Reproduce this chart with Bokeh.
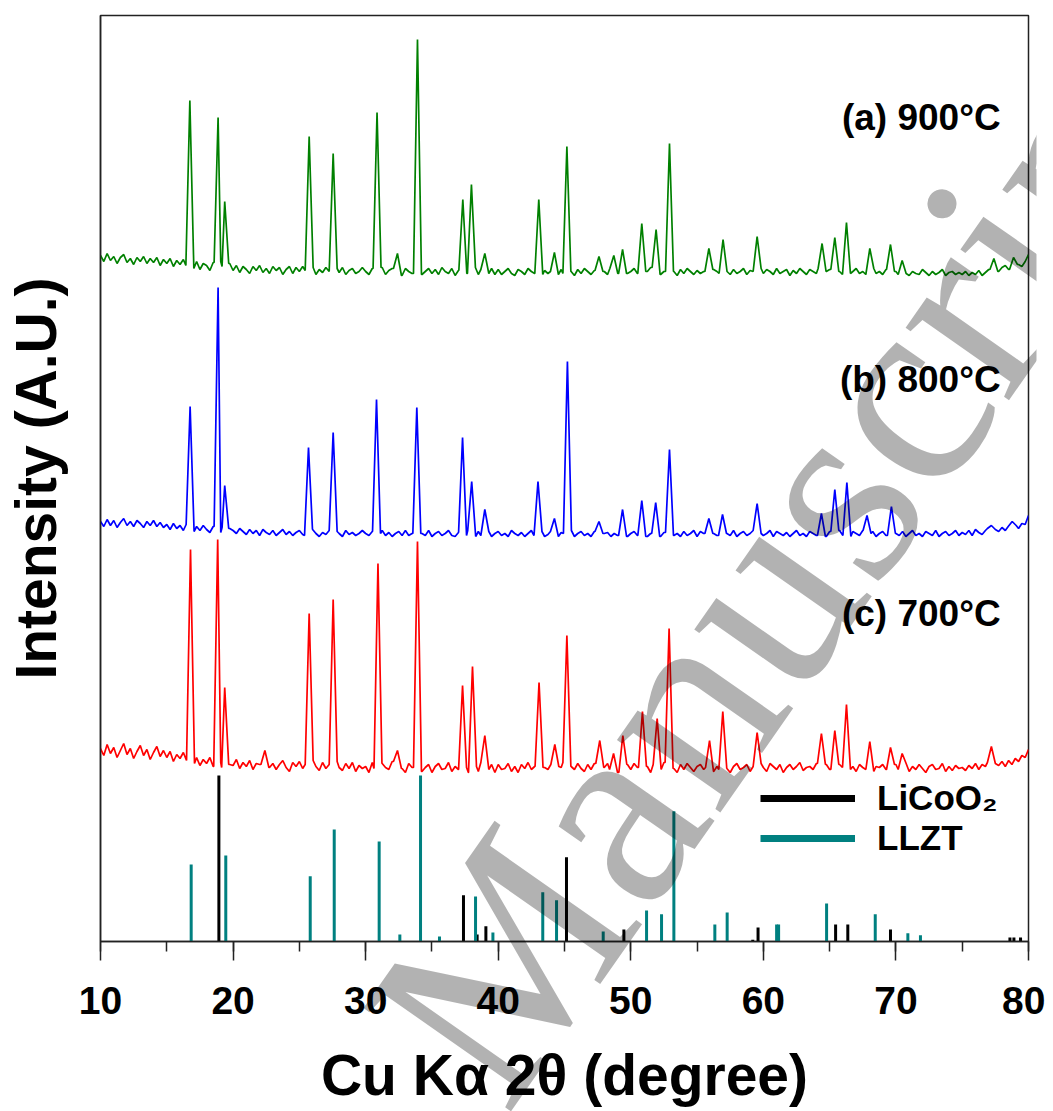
import numpy as np
from bokeh.plotting import figure
from bokeh.layouts import column
from bokeh.models import (Range1d, SingleIntervalTicker, FixedTicker, Label,
                          Legend, LegendItem)
from bokeh.embed import file_html
from bokeh.resources import INLINE

# ---------------- data ----------------
# baseline samples every 0.25 deg from 10 to 80 (intensity, A.U., relative to trace baseline)
grid = np.linspace(10, 80, 281)

green_base = [
    16, 10, 18, 11, 15, 8, 14, 17, 9, 13, 7, 14, 10, 15, 8, 13, 9, 14, 6, 12,
    8, 13, 5, 11, 7, 12, 6, 9, 3, 10, 2, 8, 6, 1, 9, 4, 10, 5, 2, 8,
    1, 6, -1, 5, 2, -2, 5, 1, 6, -1, 3, -2, 5, 1, 4, -3, 2, 5, -2, 4,
    0, 5, 1, -2, 4, -3, 2, -1, 4, 0, -3, 3, -1, 4, -3, 1, 3, -2, 0, 4,
    0, -3, 3, -2, 2, 4, -3, 1, 3, -2, 1, -4, 3, 0, -2, 4, 1, -3, 0, 3,
    -2, 2, -3, 4, 0, -2, 3, -4, 1, 0, 3, -2, 0, 4, -3, 2, 0, -2, 3, -3,
    2, -3, 0, 3, -2, -4, 2, 0, -3, 3, 0, -2, 4, -3, 1, -2, 0, 3, -3, 2,
    -2, 3, 0, -4, 2, -2, 3, 0, -3, 1, 4, -2, 0, -3, 3, 1, -2, 0, 3, -2,
    0, 3, -2, 2, -3, 0, 4, -2, 1, -3, 0, -2, 3, 0, -4, 2, -2, 3, 0, -3,
    1, -2, 0, 3, -3, 2, 0, -2, 4, 0, -3, 2, -2, 0, 3, -3, 1, 0, -2, 3,
    -2, 2, 0, -3, 3, -2, 0, 2, -4, 1, -2, 3, 0, -3, 2, 0, -2, 3, -3, 0,
    2, -2, 4, 0, -3, 2, -2, 0, 3, -2, 0, -3, 2, 3, -2, 0, -3, 2, 0, -2,
    0, -3, 2, -2, -4, 0, -2, -3, 2, -1, -4, 0, -3, -1, 2, -4, -1, 0, -3, -1,
    -3, 0, -4, -1, -3, 1, -4, -1, 2, -3, 3, 0, 4, 6, 2, 5, 3, 7, 5, 10,
    17]

blue_base = [
    12, 7, 14, 8, 13, 6, 11, 15, 8, 12, 7, 13, 10, 6, 12, 8, 13, 7, 11, 6,
    9, 4, 10, 5, 8, 3, 9, 4, 2, 7, 3, 8, 4, 1, 7, 3, 1, 6, 2, 5,
    3, 0, 5, 2, -1, 4, 0, 3, -2, 4, 1, -1, 3, -2, 1, 4, -1, 2, -2, 1,
    3, -1, -2, 2, 4, 0, -3, 1, -1, 3, -2, 2, 0, -3, 3, -1, 1, -2, 0, 3,
    0, -2, 2, -3, 0, 3, -2, 1, -3, 0, 2, -2, 3, -2, 0, -3, 2, 0, -2, 3,
    -3, 0, 2, -2, 0, 3, -2, -3, 1, 0, -2, 3, 0, -3, 2, -2, 0, 2, -3, 0,
    2, -2, 0, -3, 3, 0, -2, 1, -3, 0, 3, -2, 0, 2, -3, -1, 2, 0, -3, 1,
    0, -2, 3, -3, 0, 2, -2, 0, -3, 2, 3, -2, 0, 1, -3, 0, -2, 2, 0, -3,
    0, 2, -2, 0, 3, -3, 0, 2, -2, -3, 1, 0, 3, -2, 0, -3, 2, -2, 0, 3,
    -3, 2, 0, -2, 3, 0, -2, -3, 2, 0, -2, 3, -3, 0, 2, -2, 0, 3, -2, 0,
    -2, 0, 3, -3, 2, 0, -2, 1, -3, 0, 3, -2, 0, -3, 2, 0, -2, 3, 0, -3,
    2, -2, 0, 3, -2, 0, -3, 2, 0, -2, 3, -2, 0, 2, -3, 0, 2, -2, 0, 3,
    0, -2, 2, -3, 0, 3, -2, 0, -3, 2, 0, -2, 3, -3, 0, 2, -2, 0, 3, -2,
    1, -1, 3, -2, 4, 1, -1, 3, 5, 1, 4, 2, 6, 3, 7, 4, 8, 5, 10, 9,
    18]

red_base = [
    19, 12, 23, 14, 20, 10, 17, 24, 13, 19, 9, 16, 22, 12, 18, 8, 15, 21, 11, 17,
    10, 16, 6, 13, 9, 15, 7, 12, 4, 10, 2, 8, 4, 10, 1, 7, 5, 0, 6, 3,
    2, 8, -1, 5, 1, 7, -2, 4, 3, -3, 6, 0, 4, -2, 3, 7, 0, -4, 5, 1,
    6, -1, 3, -3, 7, 1, -3, 5, -1, 3, -4, 6, 0, -3, 4, -1, 5, -4, 2, -1,
    1, -5, 5, -1, -3, 4, 0, -2, 6, -4, 2, -1, -5, 4, 0, -2, 5, -4, 0, 3,
    -5, 1, 4, -2, -1, 5, -4, 1, -2, 4, 0, -5, 3, 1, -4, 5, -1, -2, 3, -5,
    3, -2, -1, 4, -4, 1, -5, 3, -1, 5, -2, 1, -4, 4, 0, -2, 3, -5, 1, 0,
    5, -3, 1, -2, 4, -1, -4, 3, -2, 4, 1, -4, 0, 4, -2, 3, -5, 1, -1, 3,
    -2, 4, 0, -4, 3, 1, -5, 3, -1, -2, 5, -3, 1, -1, -5, 3, -2, 4, 0, -4,
    1, 3, -2, 0, 4, -4, 1, -2, 3, -1, -5, 1, 4, -2, 0, 3, -4, 1, -1, 4,
    0, -4, 4, 1, -2, 3, -5, 0, 3, -2, 1, 5, -3, 0, 1, -2, 4, -4, 0, 3,
    -2, 1, -5, 3, 0, 4, -2, 1, -4, 3, 0, -2, 4, -4, 1, 0, 3, -2, -5, 1,
    3, -2, 0, 4, -4, 1, -2, 3, -1, -5, 1, 3, -2, -1, 4, -4, 1, -3, 2, -1,
    0, -3, 2, -1, 4, -2, 3, 1, 5, 0, 4, 2, 6, 1, 7, 3, 9, 6, 12, 10,
    18]

# peaks: (2theta, intensity above trace baseline)
green_peaks = [(16.74, 171), (18.87, 154), (19.37, 70), (25.74, 135), (27.55, 118),
               (30.86, 159), (32.40, 18), (33.91, 232), (37.33, 72), (37.98, 87),
               (38.99, 18), (43.06, 72), (44.24, 19), (45.18, 125), (47.60, 15),
               (48.72, 16), (49.38, 22), (50.83, 48), (51.91, 42), (52.92, 128),
               (55.89, 23), (56.96, 32), (59.53, 35), (64.43, 28), (65.39, 34),
               (66.27, 49), (68.03, 23), (69.59, 27), (70.47, 11), (77.39, 13),
               (78.87, 14)]
blue_peaks = [(16.76, 127), (18.87, 246), (19.37, 48), (25.69, 86), (27.55, 101),
              (30.82, 134), (33.86, 126), (37.31, 96), (38.00, 52), (38.99, 24),
              (43.00, 52), (44.24, 15), (45.22, 172), (47.60, 12), (49.38, 24),
              (50.83, 33), (51.88, 31), (52.92, 84), (55.89, 15), (56.92, 19),
              (59.53, 30), (64.38, 20), (65.39, 44), (66.30, 51), (67.82, 18),
              (69.66, 27), (77.20, 8), (78.77, 12)]
red_peaks = [(16.79, 218), (18.84, 228), (19.37, 80), (22.40, 17), (25.74, 154),
             (27.55, 168), (30.93, 204), (32.40, 17), (33.91, 226), (37.31, 82),
             (38.06, 101), (38.99, 32), (43.08, 85), (44.27, 23), (45.18, 132),
             (47.66, 27), (48.70, 14), (49.40, 32), (50.88, 56), (51.99, 49),
             (52.89, 139), (55.94, 27), (56.94, 56), (59.53, 35), (64.38, 34),
             (65.39, 37), (66.27, 63), (68.03, 26), (69.59, 20), (70.47, 14),
             (77.20, 21)]

trace_offsets = [670, 408, 174]          # vertical stacking offsets (A.U.)
trace_colors = ["#008000", "#0000ff", "#ff0000"]
trace_labels = ["(a) 900°C", "(b) 800°C", "(c) 700°C"]

# reference patterns: (2theta, relative intensity %)
licoo2_pos = [18.93, 37.38, 38.41, 39.07, 45.15, 49.48, 59.20, 59.60, 65.45, 66.37,
              69.59, 78.60, 78.90, 79.40]
licoo2_int = [100, 27.9, 4.2, 9.2, 50.8, 7.2, 1.0, 8.4, 10.2, 10.2, 7.2, 2.4, 2.4, 2.4]
llzt_pos = [16.84, 19.45, 25.82, 27.63, 31.02, 32.58, 34.14, 35.57, 38.29, 39.60,
            43.36, 44.40, 47.92, 51.19, 52.32, 53.25, 56.34, 57.27, 61.00, 61.15,
            64.77, 68.44, 70.90, 71.85]
llzt_int = [46.4, 51.8, 39.3, 67.5, 60.2, 4.2, 100, 3.0, 27.1, 5.4, 29.7, 24.9, 6.0,
            18.7, 16.4, 78.5, 10.2, 17.5, 10.2, 10.2, 22.9, 16.4, 5.0, 3.8]
stick_scale = 1.66   # A.U. per % for the reference sticks

legend_labels = ["LiCoO₂", "LLZT"]
stick_colors = ["black", "#008080"]

watermark_text = "Manuscript"

# ---------------- build traces ----------------
HW = 0.3
step = grid[1] - grid[0]


def build_trace(base_vals, peaks, offset):
    base = np.asarray(base_vals, dtype=float)
    keep = np.ones(len(grid), dtype=bool)
    for c, _ in peaks:
        keep &= np.abs(grid - c) >= HW
    xs = list(grid[keep])
    ys = list(base[keep])

    def foot(x):
        i = int(round((x - grid[0]) / step))
        return base[min(max(i, 0), len(base) - 1)]

    for c, h in peaks:
        xs += [c - HW, c, c + HW]
        ys += [foot(c - HW), h, foot(c + HW)]
    xs = np.asarray(xs)
    ys = np.asarray(ys)
    order = np.argsort(xs, kind="stable")
    return xs[order], ys[order] + offset


FONT = "Liberation Sans"
CW, CH = 1053, 1111

p = figure(frame_width=928, frame_height=926,
           x_range=Range1d(10, 80), y_range=Range1d(0, 926),
           output_backend="svg", toolbar_location=None,
           min_border_left=100, min_border_right=17, min_border_top=15,
           min_border_bottom=170, background_fill_color="white",
           border_fill_color="white")
p.xgrid.visible = False
p.ygrid.visible = False
p.outline_line_color = "#222222"
p.outline_line_width = 1.5

xa = p.xaxis[0]
xa.ticker = SingleIntervalTicker(interval=10, num_minor_ticks=2)
xa.major_tick_in = 0
xa.major_tick_out = 19
xa.minor_tick_in = 0
xa.minor_tick_out = 10
xa.major_tick_line_width = 1.5
xa.minor_tick_line_width = 1.5
xa.major_tick_line_color = "#222222"
xa.minor_tick_line_color = "#222222"
xa.axis_line_width = 1.5
xa.axis_line_color = "#222222"
xa.major_label_text_font = FONT
xa.major_label_text_font_size = "39px"
xa.major_label_text_font_style = "bold"
xa.major_label_text_color = "black"
xa.major_label_standoff = 26
xa.axis_label = "Cu Kα 2θ (degree)"
xa.axis_label_text_font = FONT
xa.axis_label_text_font_size = "57px"
xa.axis_label_text_font_style = "bold"
xa.axis_label_text_color = "black"
xa.axis_label_standoff = 26

ya = p.yaxis[0]
ya.ticker = FixedTicker(ticks=[])
ya.major_tick_out = 0
ya.major_tick_in = 0
ya.minor_tick_out = 0
ya.minor_tick_in = 0
ya.axis_line_width = 1.5
ya.axis_line_color = "#222222"
ya.axis_label = "Intensity (A.U.)"
ya.axis_label_text_font = FONT
ya.axis_label_text_font_size = "57px"
ya.axis_label_text_font_style = "bold"
ya.axis_label_text_color = "black"
ya.axis_label_standoff = 33

# reference sticks
p.segment(x0=licoo2_pos, y0=0, x1=licoo2_pos,
          y1=[v * stick_scale for v in licoo2_int], line_color=stick_colors[0], line_width=3)
p.segment(x0=llzt_pos, y0=0, x1=llzt_pos,
          y1=[v * stick_scale for v in llzt_int], line_color=stick_colors[1], line_width=3)

# traces
for base_vals, peaks, off, col, lab in zip([green_base, blue_base, red_base],
                                           [green_peaks, blue_peaks, red_peaks],
                                           trace_offsets, trace_colors, trace_labels):
    xs, ys = build_trace(base_vals, peaks, off)
    p.line(xs, ys, line_color=col, line_width=1.7)
    p.add_layout(Label(x=77.9, y=off + 154, text=lab, text_align="right",
                       text_baseline="middle", text_font=FONT,
                       text_font_size="37px", text_font_style="bold",
                       text_color="black"))

# legend (thick sample lines; dummy renderers lie outside the visible x range)
legend_items = []
for lab, col in zip(legend_labels, stick_colors):
    r = p.line(x=[0, 1], y=[0, 0], line_color=col, line_width=7)
    legend_items.append(LegendItem(label=lab, renderers=[r]))
legend = Legend(items=legend_items,
                location=(660, 83), glyph_width=95, glyph_height=20,
                label_standoff=22, padding=0, margin=0, spacing=0,
                border_line_alpha=0, background_fill_alpha=0,
                label_text_font=FONT, label_text_font_size="35px",
                label_text_font_style="bold", label_text_color="black")
p.add_layout(legend)

# transparent overlay carrying the diagonal watermark (so it is not clipped to the frame)
w = figure(width=CW, height=CH, x_range=Range1d(0, CW), y_range=Range1d(0, CH),
           output_backend="svg", toolbar_location=None, min_border=0,
           min_border_left=0, min_border_right=0, min_border_top=0,
           min_border_bottom=0,
           x_axis_location=None, y_axis_location=None, outline_line_color=None,
           background_fill_alpha=0, border_fill_alpha=0)
w.grid.visible = False
w.margin = (-CH, 0, 0, 0)

WM_SIZE = 275
WM_ANGLE = np.deg2rad(55)
w.add_layout(Label(x=371, y=CH - 1064, text=watermark_text, angle=WM_ANGLE,
                   text_align="left", text_baseline="alphabetic",
                   text_font="Liberation Serif", text_font_size=f"{WM_SIZE}px",
                   text_color="black", text_alpha=0.3))

layout = column(p, w, spacing=0)
open("out.html", "w").write(file_html(layout, INLINE))
